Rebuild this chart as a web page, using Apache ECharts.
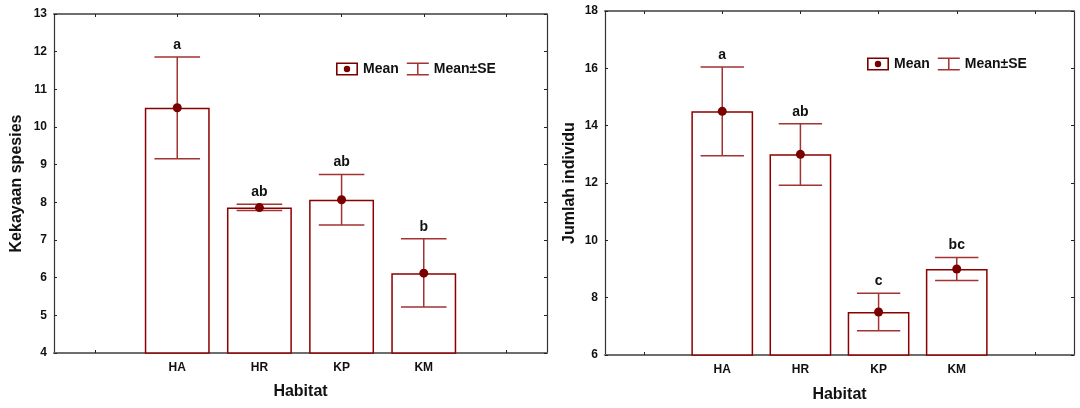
<!DOCTYPE html>
<html>
<head>
<meta charset="utf-8">
<title>Habitat</title>
<script src="https://cdn.jsdelivr.net/npm/echarts@6/dist/echarts.min.js"></script>
<style>
  html, body { margin: 0; padding: 0; background: #fff; }
  #main { width: 1080px; height: 408px; }
</style>
</head>
<body>
<div id="main"></div>
<script>
// habitat categories, with an empty slot on each side like the original plot
var habitat = ['HA', 'HR', 'KP', 'KM'];

// left panel: Kekayaan spesies
var rich_mean = [10.51, 7.86, 8.07, 6.12];
var rich_lo = [9.16, 7.78, 7.40, 5.22];
var rich_hi = [11.86, 7.95, 8.74, 7.03];
var rich_letter = ['a', 'ab', 'ab', 'b'];
var rich_ticks = [4, 13, 1];

// right panel: Jumlah individu
var ind_mean = [14.50, 13.00, 7.50, 9.00];
var ind_lo = [12.95, 11.92, 6.85, 8.60];
var ind_hi = [16.05, 14.07, 8.15, 9.40];
var ind_letter = ['a', 'ab', 'c', 'bc'];
var ind_ticks = [6, 18, 2];

var FONT = "'Liberation Sans', Arial, sans-serif";
var BAR_LINE = '#8b0000';
var DOT = '#7a0000';
var WHISKER = '#a33232';

var cats = [''].concat(habitat).concat([' ']);

function pad(arr) {
  return ['-'].concat(arr).concat(['-']);
}

function seData(lo, hi) {
  var out = [];
  for (var i = 0; i < lo.length; i++) {
    out.push([i + 1, lo[i], hi[i]]);
  }
  return out;
}

// legend icons: outlined box with a dot, and an error bar shape
var meanIcon = 'path://M0,0H22V13H0Z M1.6,1.6V11.4H20.4V1.6Z M7.8,6.5A3.2,3.2 0 1,1 14.2,6.5A3.2,3.2 0 1,1 7.8,6.5Z';
var seIcon = 'path://M0,0H22V1.5H11.75V11.5H22V13H0V11.5H10.25V1.5H0Z';

function makeRender(letters) {
  return function (params, api) {
    var x = api.value(0);
    var pLo = api.coord([x, api.value(1)]);
    var pHi = api.coord([x, api.value(2)]);
    var half = api.size([1, 0])[0] * 0.555 / 2;
    var st = { stroke: WHISKER, lineWidth: 1.5 };
    return {
      type: 'group',
      children: [
        { type: 'line', shape: { x1: pLo[0], y1: pLo[1], x2: pHi[0], y2: pHi[1] }, style: st },
        { type: 'line', shape: { x1: pHi[0] - half, y1: pHi[1], x2: pHi[0] + half, y2: pHi[1] }, style: st },
        { type: 'line', shape: { x1: pLo[0] - half, y1: pLo[1], x2: pLo[0] + half, y2: pLo[1] }, style: st },
        {
          type: 'text',
          style: {
            text: letters[params.dataIndex],
            x: pHi[0],
            y: pHi[1] - 5,
            align: 'center',
            verticalAlign: 'bottom',
            font: 'bold 14px ' + FONT,
            fill: '#111'
          }
        }
      ]
    };
  };
}

function xAxes(gi, nameGap) {
  var base = {
    type: 'category',
    gridIndex: gi,
    data: cats,
    boundaryGap: true,
    axisLine: { lineStyle: { color: '#6e6e6e', width: 2 } },
    axisTick: { show: true, alignWithLabel: true, inside: true, length: 3, lineStyle: { color: '#222' } },
    splitLine: { show: false }
  };
  var bottom = Object.assign({}, base, {
    position: 'bottom',
    name: 'Habitat',
    nameLocation: 'middle',
    nameGap: nameGap,
    nameTextStyle: { fontFamily: FONT, fontWeight: 'bold', fontSize: 16, color: '#111' },
    axisLabel: { fontFamily: FONT, fontWeight: 'bold', fontSize: 12, color: '#111', margin: 9, interval: 0 }
  });
  var top = Object.assign({}, base, { position: 'top', axisLabel: { show: false } });
  return [bottom, top];
}

function yAxes(gi, ticks, title, nameGap) {
  var base = {
    type: 'value',
    gridIndex: gi,
    min: ticks[0],
    max: ticks[1],
    interval: ticks[2],
    axisLine: { show: true, lineStyle: { color: '#333', width: 1.2 } },
    axisTick: { show: true, inside: true, length: 3, lineStyle: { color: '#222' } },
    splitLine: { show: false }
  };
  var left = Object.assign({}, base, {
    position: 'left',
    name: title,
    nameLocation: 'middle',
    nameGap: nameGap,
    nameTextStyle: { fontFamily: FONT, fontWeight: 'bold', fontSize: 16, color: '#111' },
    axisLabel: { fontFamily: FONT, fontWeight: 'bold', fontSize: 12, color: '#111', margin: 7 }
  });
  var right = Object.assign({}, base, { position: 'right', axisLabel: { show: false } });
  return [left, right];
}

function panelSeries(ax, mean, lo, hi, letters) {
  return [
    {
      name: 'bar',
      type: 'bar',
      xAxisIndex: ax,
      yAxisIndex: ax,
      data: pad(mean),
      barWidth: '79%',
      z: 1,
      itemStyle: { color: '#fff', borderColor: BAR_LINE, borderWidth: 1.5 },
      silent: true
    },
    {
      name: 'Mean±SE',
      type: 'custom',
      xAxisIndex: ax,
      yAxisIndex: ax,
      data: seData(lo, hi),
      z: 5,
      itemStyle: { color: WHISKER },
      renderItem: makeRender(letters)
    },
    {
      name: 'Mean',
      type: 'scatter',
      xAxisIndex: ax,
      yAxisIndex: ax,
      data: pad(mean),
      symbolSize: 9,
      z: 6,
      itemStyle: { color: DOT, opacity: 1 }
    }
  ];
}

function legendAt(left, top) {
  return {
    left: left,
    top: top,
    orient: 'horizontal',
    itemWidth: 22,
    itemHeight: 13,
    itemGap: 8,
    selectedMode: false,
    textStyle: { fontFamily: FONT, fontWeight: 'bold', fontSize: 14, color: '#111' },
    data: [
      { name: 'Mean', icon: meanIcon, itemStyle: { color: DOT, borderWidth: 0, opacity: 1 } },
      { name: 'Mean±SE', icon: seIcon, itemStyle: { color: WHISKER, borderWidth: 0, opacity: 1 } }
    ]
  };
}

var chart = echarts.init(document.getElementById('main'), null, { renderer: 'canvas' });

var xa0 = xAxes(0, 31), xa1 = xAxes(1, 32);
var ya0 = yAxes(0, rich_ticks, 'Kekayaan spesies', 29);
var ya1 = yAxes(1, ind_ticks, 'Jumlah individu', 27);

var option = {
  backgroundColor: '#fff',
  animation: false,
  grid: [
    { left: 54, top: 14, width: 493, height: 339 },
    { left: 605, top: 11, width: 469, height: 348 }
  ],
  legend: [legendAt(331, 57), legendAt(862, 52)],
  // axis order: 0 bottom-left, 1 bottom-right, 2 top-left, 3 top-right
  xAxis: [xa0[0], xa1[0], xa0[1], xa1[1]],
  yAxis: [ya0[0], ya1[0], ya0[1], ya1[1]],
  series: panelSeries(0, rich_mean, rich_lo, rich_hi, rich_letter)
    .concat(panelSeries(1, ind_mean, ind_lo, ind_hi, ind_letter))
};

chart.setOption(option);
</script>
</body>
</html>
